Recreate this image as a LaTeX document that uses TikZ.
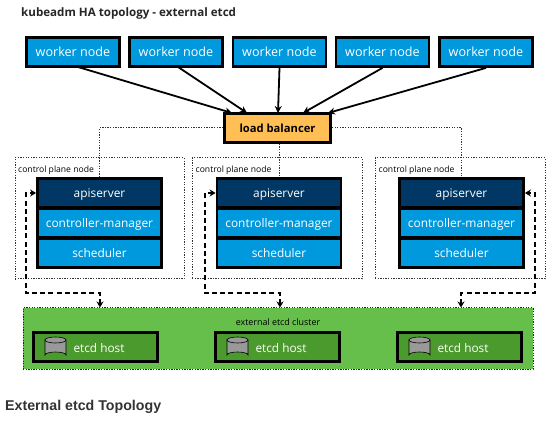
\documentclass[tikz,border=0pt]{standalone}
\usepackage{fontspec}
\setmainfont{Open Sans}
\newfontfamily\heada{Liberation Sans}
\usetikzlibrary{arrows.meta}
\definecolor{wblue}{HTML}{0099DE}
\definecolor{dblue}{HTML}{003764}
\definecolor{lbor}{HTML}{FFBF55}
\definecolor{lgreen}{HTML}{67BF4B}
\definecolor{dgreen}{HTML}{4B9A2D}
\definecolor{cylg}{HTML}{999999}
\tikzset{
 x=1pt,y=-1pt,
 box/.style={draw=black,line width=2.8pt,minimum height=#1,inner sep=0pt,text=white,anchor=center,text height=9.5pt,text depth=0.5pt,font=\fontsize{12.6}{14}\selectfont},
 box/.default=29pt,
 stackbox/.style={box=29pt,minimum width=124pt,text height=10pt,text depth=0.5pt,font=\fontsize{11.9}{14}\selectfont},
 link/.style={line width=1.8pt,-{Stealth[length=7pt,width=7pt]}},
 dots/.style={dash pattern=on 1.3pt off 1.3pt,line width=1pt,black!80},
 etcdlink/.style={line width=1.9pt,dash pattern=on 5pt off 3.2pt,{Stealth[length=6pt,width=7pt]}-{Stealth[length=6pt,width=7pt]}},
 small/.style={anchor=west,inner sep=0pt,font=\fontsize{8.6}{10}\selectfont},
}
\newcommand{\cyl}[2]{%
 \fill[cylg,draw=black,line width=0.6pt] (#1,#2+3) -- (#1,#2+18) arc[x radius=10.5,y radius=3,start angle=180,end angle=360] -- (#1+21,#2+3) -- cycle;
 \draw[fill=cylg,line width=0.6pt] (#1+10.5,#2+3) ellipse[x radius=10.5,y radius=3];
}
\begin{document}
\begin{tikzpicture}
\useasboundingbox (0,0) rectangle (552,422);
\fill[white] (0,0) rectangle (552,422);
\node[anchor=west,inner sep=0pt,font=\fontsize{11.6}{13}\selectfont\bfseries,text=black!85] (title) at (21,13) {kubeadm HA topology - external etcd};
% dotted frames
\node[dots,draw,minimum width=169pt,minimum height=121pt,inner sep=0pt] (cp1) at (99.5,218.5) {};
\node[dots,draw,minimum width=170pt,minimum height=121pt,inner sep=0pt] (cp2) at (277,218.5) {};
\node[dots,draw,minimum width=170pt,minimum height=121pt,inner sep=0pt] (cp3) at (460,218.5) {};
\node[small] (l1) at (18,170) {control plane node};
\node[small] (l2) at (195.5,170) {control plane node};
\node[small] (l3) at (378.5,170) {control plane node};
% workers
\foreach \n/\cx in {w1/73,w2/176,w3/279.5,w4/382.5,w5/486}
 \node[box=29pt,fill=wblue,minimum width=93pt] (\n) at (\cx,52) {worker node};
% lb
\node[draw=black,line width=2.8pt,fill=lbor,minimum width=106pt,minimum height=29pt,inner sep=0pt,text height=9.5pt,text depth=0.5pt,font=\fontsize{11.2}{13}\selectfont\bfseries] (lb) at (277.5,128) {load balancer};
% stacks
\foreach \p/\cx in {a/99.5,b/279,c/461.5}{
 \node[stackbox,fill=dblue] (\p api) at (\cx,193) {apiserver};
 \node[stackbox,fill=wblue] (\p cm) at (\cx,223) {controller-manager};
 \node[stackbox,fill=wblue] (\p sch) at (\cx,253) {scheduler};
}
% links
\coordinate (s1) at (78,67);
\coordinate (s2) at (178,67);
\coordinate (t1) at (232,113);
\coordinate (t2) at (247,113);
\coordinate (t3) at (278,113);
\coordinate (t4) at (303,113);
\coordinate (t5) at (328,113);
\draw[link] (s1) -- (t1);
\draw[link] (s2) -- (t2);
\draw[link] (w3.south) -- (t3);
\draw[link] (w4.south) -- (t4);
\draw[link] (w5.south) -- (t5);
% etcd
\node[dots,draw=black!85,fill=lgreen,minimum width=510pt,minimum height=61pt,inner sep=0pt] (cluster) at (278,338.5) {};
\node[inner sep=0pt,font=\fontsize{8.9}{10}\selectfont] (cl) at (278,322) {external etcd cluster};
\foreach \n/\cx in {h1/95.5,h2/277.5,h3/459.5}{
 \node[draw=black,line width=2.6pt,fill=dgreen,minimum width=124pt,minimum height=29pt,inner sep=0pt] (\n) at (\cx,347) {};
 \node[text=white,inner sep=0pt,text height=11pt,text depth=0pt,font=\fontsize{11.8}{14}\selectfont] at (\cx+3.5,347) {etcd host};
 \cyl{\cx-50.5}{337}
}
% dotted lb
\draw[dots] (lb.west) -| (aapi.north);
\draw[dots] (lb.east) -| (capi.north);
\draw[dots] (lb.south -| bapi.north) -- (bapi.north);
% dashed
\coordinate (d1) at (26,293);
\coordinate (d2) at (205,293);
\coordinate (d3) at (535,293);
\coordinate (e1) at (100,307.5);
\coordinate (e2) at (280,307.5);
\coordinate (e3) at (461,307.5);
\draw[etcdlink] (e1) -- (100,293) -- (d1) |- (aapi.west);
\draw[etcdlink] (e2) -- (280,293) -- (d2) |- (bapi.west);
\draw[etcdlink] (e3) -- (461,293) -- (d3) |- (capi.east);
\node[anchor=west,inner sep=0pt,font=\heada\fontsize{14.2}{16}\selectfont\bfseries,text=black!80] (cap) at (5,407) {External etcd Topology};
\end{tikzpicture}
\end{document}
